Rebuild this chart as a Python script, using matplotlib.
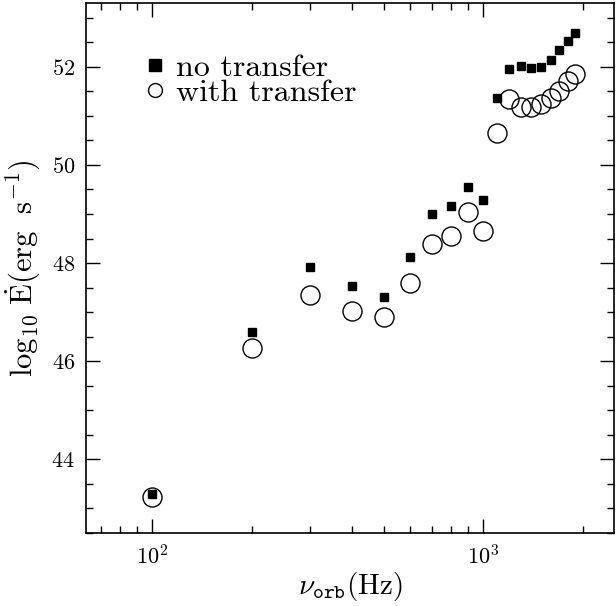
import matplotlib
matplotlib.use('Agg')
import matplotlib.pyplot as plt
from matplotlib.lines import Line2D
from matplotlib.ticker import MultipleLocator, LogLocator, NullFormatter

plt.rcParams['font.family'] = ['cmr10', 'DejaVu Serif']
plt.rcParams['mathtext.fontset'] = 'cm'
plt.rcParams['axes.formatter.use_mathtext'] = True
plt.rcParams['axes.unicode_minus'] = False

# orbital frequency (Hz)
freq = [100, 200, 300, 400, 500, 600, 700, 800, 900, 1000,
        1100, 1200, 1300, 1400, 1500, 1600, 1700, 1800, 1900]
# log10 Edot without / with mass transfer
edot_no = [43.30, 46.59, 47.92, 47.53, 47.31, 48.12, 49.01, 49.16, 49.56, 49.28,
           51.37, 51.95, 52.01, 51.98, 51.99, 52.14, 52.34, 52.52, 52.69]
edot_with = [43.23, 46.27, 47.36, 47.03, 46.90, 47.59, 48.39, 48.55, 49.04, 48.65,
             50.65, 51.34, 51.19, 51.19, 51.24, 51.36, 51.51, 51.71, 51.85]
labels = ['no transfer', 'with transfer']

fig = plt.figure(figsize=(6.16, 6.06), dpi=100)
ax = fig.add_axes([0.1396, 0.1205, 0.8575, 0.8745])

ax.plot(freq, edot_no, ls='none', marker='s', color='k', ms=5.8)
ax.plot(freq, edot_with, ls='none', marker='o', mfc='none', mec='k', mew=1.0, ms=13.7)

ax.set_xscale('log')
ax.set_xlim(63, 2490)
ax.set_ylim(42.5, 53.3)

ax.yaxis.set_major_locator(MultipleLocator(2))
ax.yaxis.set_minor_locator(MultipleLocator(0.5))
ax.xaxis.set_major_locator(LogLocator(base=10))
ax.xaxis.set_minor_locator(LogLocator(base=10, subs=range(2, 10)))
ax.xaxis.set_minor_formatter(NullFormatter())

ax.tick_params(which='both', direction='in', top=True, right=True, width=1,
               labelsize=16, pad=8)
ax.tick_params(which='major', length=10)
ax.tick_params(which='minor', length=5)
for s in ax.spines.values():
    s.set_linewidth(1.2)

ax.set_xlabel(r'$\nu_{\mathtt{orb}}(\rm Hz)$', fontsize=21, labelpad=1)
ax.set_ylabel(r'$\log_{10}\,\dot{\rm E}({\rm erg\ \ s^{-1}})$', fontsize=22, labelpad=6)

handles = [Line2D([], [], ls='none', marker='s', color='k', ms=8),
           Line2D([], [], ls='none', marker='o', mfc='none', mec='k', ms=10)]
ax.legend(handles, labels, loc='upper left', bbox_to_anchor=(0.11, 0.905),
          frameon=False, fontsize=23, handlelength=0.7, handletextpad=0.3,
          labelspacing=-0.1, borderpad=0, borderaxespad=0)

fig.savefig('out.png', dpi=100)
